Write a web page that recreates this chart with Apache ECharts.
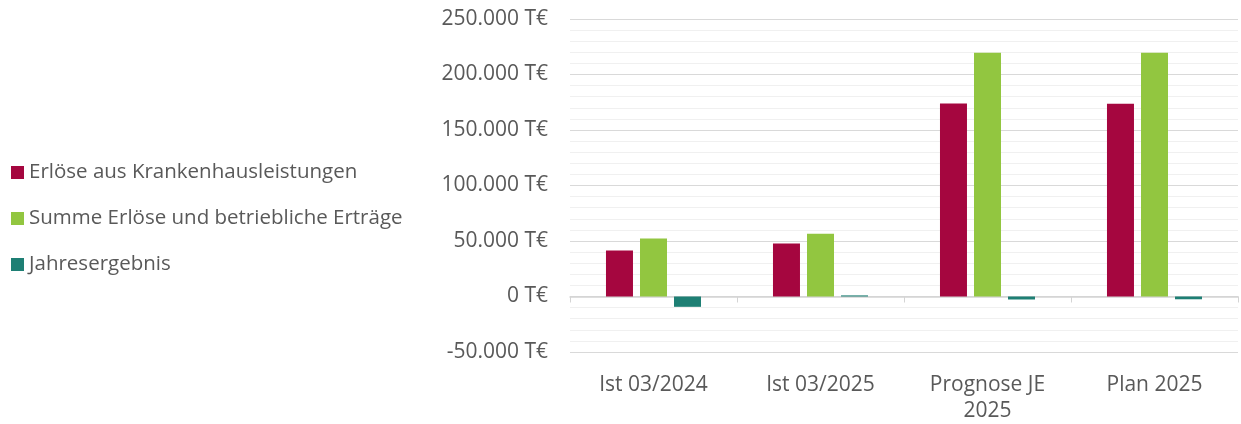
<!DOCTYPE html>
<html>
<head>
<meta charset="utf-8">
<script src="https://cdn.jsdelivr.net/npm/echarts@6/dist/echarts.min.js"></script>
<style>
  html, body { margin: 0; padding: 0; background: #fff; }
  #chart { width: 1241px; height: 424px; }
</style>
</head>
<body>
<div id="chart"></div>
<script>
const categories = ["Ist 03/2024", "Ist 03/2025", "Prognose JE\n2025", "Plan 2025"];
const seriesNames = [
  "Erlöse aus Krankenhausleistungen",
  "Summe Erlöse und betriebliche Erträge",
  "Jahresergebnis",
];
const erloeseKH = [41400, 47700, 173800, 173600];
const summeErloese = [52300, 56500, 219500, 219700];
const jahresergebnis = [-9300, 1000, -2700, -2500];
const yTicks = [-50000, 0, 50000, 100000, 150000, 200000, 250000];

const textColor = "#595959";
const font = "Open Sans";

function fmt(v) {
  let s = Math.abs(v).toString().replace(/\B(?=(\d{3})+(?!\d))/g, ".");
  return (v < 0 ? "-" : "") + s + " T€";
}

var chartDom = document.getElementById("chart");
var myChart = echarts.init(chartDom);
var option;

option = {
  animation: false,
  color: ["#A5063F", "#92C640", "#1E7F74"],
  textStyle: { fontFamily: font, color: textColor },
  legend: {
    orient: "vertical",
    left: 6,
    top: 157,
    icon: "rect",
    itemWidth: 13,
    itemHeight: 13,
    itemGap: 25,
    textStyle: { fontSize: 20.5, color: textColor, fontFamily: font },
    data: seriesNames,
  },
  grid: {
    left: 570,
    right: 3,
    top: 19,
    bottom: 72,
    containLabel: false,
    outerBoundsMode: "none",
  },
  xAxis: [
    {
      // labels under the plot
      type: "category",
      position: "bottom",
      data: categories,
      axisLine: { show: false, onZero: false },
      axisTick: { show: false },
      axisLabel: {
        margin: 20,
        fontSize: 21,
        lineHeight: 26,
        color: textColor,
        fontFamily: font,
      },
    },
    {
      // zero line with ticks
      type: "category",
      position: "bottom",
      data: categories,
      axisLine: { onZero: true, lineStyle: { color: "#d4d4d4", width: 1.5 } },
      axisTick: { show: true, length: 6, lineStyle: { color: "#d4d4d4" } },
      axisLabel: { show: false },
      splitLine: { show: false },
    },
  ],
  yAxis: {
    type: "value",
    min: yTicks[0],
    max: yTicks[yTicks.length - 1],
    interval: 50000,
    axisLine: { show: false },
    axisTick: { show: false },
    axisLabel: {
      margin: 22,
      fontSize: 21,
      color: textColor,
      fontFamily: font,
      formatter: fmt,
    },
    splitLine: { lineStyle: { color: "#d9d9d9", width: 1 } },
    minorTick: { show: false, splitNumber: 5 },
    minorSplitLine: { show: true, lineStyle: { color: "#f0f0f0", width: 1 } },
  },
  series: [
    {
      name: seriesNames[0],
      type: "bar",
      barWidth: 27,
      barGap: "26%",
      data: erloeseKH,
    },
    {
      name: seriesNames[1],
      type: "bar",
      barWidth: 27,
      barGap: "26%",
      data: summeErloese,
    },
    {
      name: seriesNames[2],
      type: "bar",
      barWidth: 27,
      barGap: "26%",
      data: jahresergebnis,
    },
  ],
};

option && myChart.setOption(option);
</script>
</body>
</html>
